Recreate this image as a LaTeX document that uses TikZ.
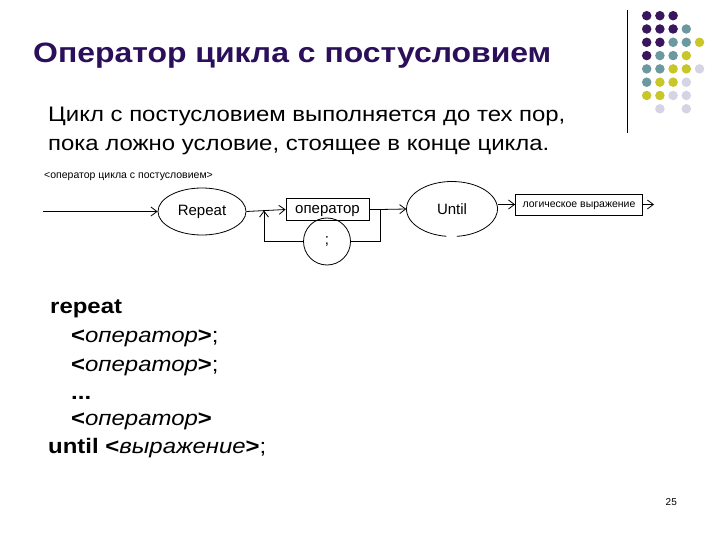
\documentclass[tikz,border=0pt]{standalone}
\usepackage{fontspec}
\usepackage{graphicx}
\setmainfont{Liberation Sans}
\usetikzlibrary{arrows.meta,shapes.geometric}
\definecolor{titlec}{RGB}{43,15,90}
\definecolor{dpurple}{RGB}{58,22,94}
\definecolor{dteal}{RGB}{108,152,160}
\definecolor{dyellow}{RGB}{200,198,40}
\definecolor{dlav}{RGB}{212,212,228}
\newcommand{\wide}[1]{\scalebox{1.14}[1]{#1}}
\tikzset{
  titletext/.style={anchor=base west,inner sep=0pt,text=titlec,font=\fontsize{28}{32}\selectfont\bfseries},
  bodytext/.style={anchor=base west,inner sep=0pt,font=\fontsize{21}{25}\selectfont},
  codetext/.style={anchor=base west,inner sep=0pt,font=\fontsize{21}{25}\selectfont},
  smalltext/.style={anchor=base west,inner sep=0pt,font=\fontsize{10.5}{12}\selectfont},
  oval/.style={ellipse,draw,line width=0.8pt,minimum width=88pt,minimum height=47pt,inner sep=0pt,font=\fontsize{15}{17}\selectfont},
  kwbox/.style={rectangle,draw,line width=0.8pt,inner sep=0pt,font=\fontsize{15}{17}\selectfont},
  conn/.style={line width=0.8pt},
  arr/.style={line width=0.8pt,-{Straight Barb[length=6pt,width=9pt]}},
  dot/.style={circle,inner sep=0pt,minimum size=9.5pt}
}
\begin{document}
\begin{tikzpicture}[x=1pt,y=-1pt]
\useasboundingbox (0,0) rectangle (720,540);
\fill[white] (0,0) rectangle (720,540);
% title and decoration
\node[titletext] (title) at (33,63) {\wide{Оператор цикла с постусловием}};
\draw[line width=1.2pt] (627.5,10) -- (627.5,133);
\foreach \c/\r/\col in {0/0/dpurple,1/0/dpurple,2/0/dpurple,
  0/1/dpurple,1/1/dpurple,2/1/dpurple,3/1/dteal,
  0/2/dpurple,1/2/dpurple,2/2/dteal,3/2/dteal,4/2/dyellow,
  0/3/dpurple,1/3/dteal,2/3/dteal,3/3/dyellow,
  0/4/dteal,1/4/dteal,2/4/dyellow,3/4/dyellow,4/4/dlav,
  0/5/dteal,1/5/dyellow,2/5/dyellow,3/5/dlav,
  0/6/dyellow,1/6/dyellow,2/6/dlav,3/6/dlav,
  1/7/dlav,3/7/dlav}
  \node[dot,fill=\col] (d\c\r) at ({646.7+13.2*\c},{15.7+13.3*\r}) {};
% body text
\node[bodytext] (l1) at (48,122) {\wide{Цикл с постусловием выполняется до тех пор,}};
\node[bodytext] (l2) at (48,151) {\wide{пока ложно условие, стоящее в конце цикла.}};
% syntax diagram
\node[smalltext] (lab) at (44,178.5) {<оператор цикла с постусловием>};
\coordinate (start) at (43,211.5);
\node[oval] (rep) at (202,211.5) {Repeat};
\node[kwbox,minimum width=83pt,minimum height=21.5pt,text height=11pt,text depth=3.5pt] (op) at (327.5,209.5) {оператор};
\node[circle,draw,line width=0.8pt,minimum size=47pt,inner sep=0pt,font=\fontsize{15}{17}\selectfont] (semi) at (327,241.5) {;};
\node[ellipse,minimum width=91pt,minimum height=55pt,inner sep=0pt,font=\fontsize{15}{17}\selectfont] (until) at (452,209) {Until};
\draw[conn] ([shift={(97:45.5 and 27.5)}]until.center) arc[start angle=97,end angle=444,x radius=45.5,y radius=27.5];
\node[kwbox,minimum width=127pt,minimum height=21pt,text height=8pt,text depth=2.5pt,font=\fontsize{10.5}{12}\selectfont] (logic) at (579,204.5) {логическое выражение};
\coordinate (jr) at (380,209.5);
\coordinate (jl) at (264,210.5);
\coordinate (out) at (654,204.5);
\draw[arr] (start) -- (rep.west);
\draw[arr] (rep.east) -- (op.west);
\draw[conn] (op.east) -- (jr);
\draw[arr] (jr) -- (until.west);
\draw[conn] (jr) |- (semi.east);
\draw[arr] (semi.west) -| (jl);
\draw[arr] (until.east |- logic.west) -- (logic.west);
\draw[arr] (logic.east) -- (out);
% code
\node[codetext] (c1) at (50,313) {\wide{\textbf{repeat}}};
\node[codetext] (c2) at (71,342.5) {\wide{\textbf{<}\textit{оператор}\textbf{>};}};
\node[codetext] (c3) at (71,371) {\wide{\textbf{<}\textit{оператор}\textbf{>};}};
\node[codetext] (c4) at (71,399) {\wide{\textbf{...}}};
\node[codetext] (c5) at (71,425.5) {\wide{\textbf{<}\textit{оператор}\textbf{>}}};
\node[codetext] (c6) at (48,453) {\wide{\textbf{until <}\textit{выражение}\textbf{>};}};
\node[anchor=base west,inner sep=0pt,font=\fontsize{10}{12}\selectfont] (pg) at (665.5,505) {25};
\end{tikzpicture}
\end{document}
